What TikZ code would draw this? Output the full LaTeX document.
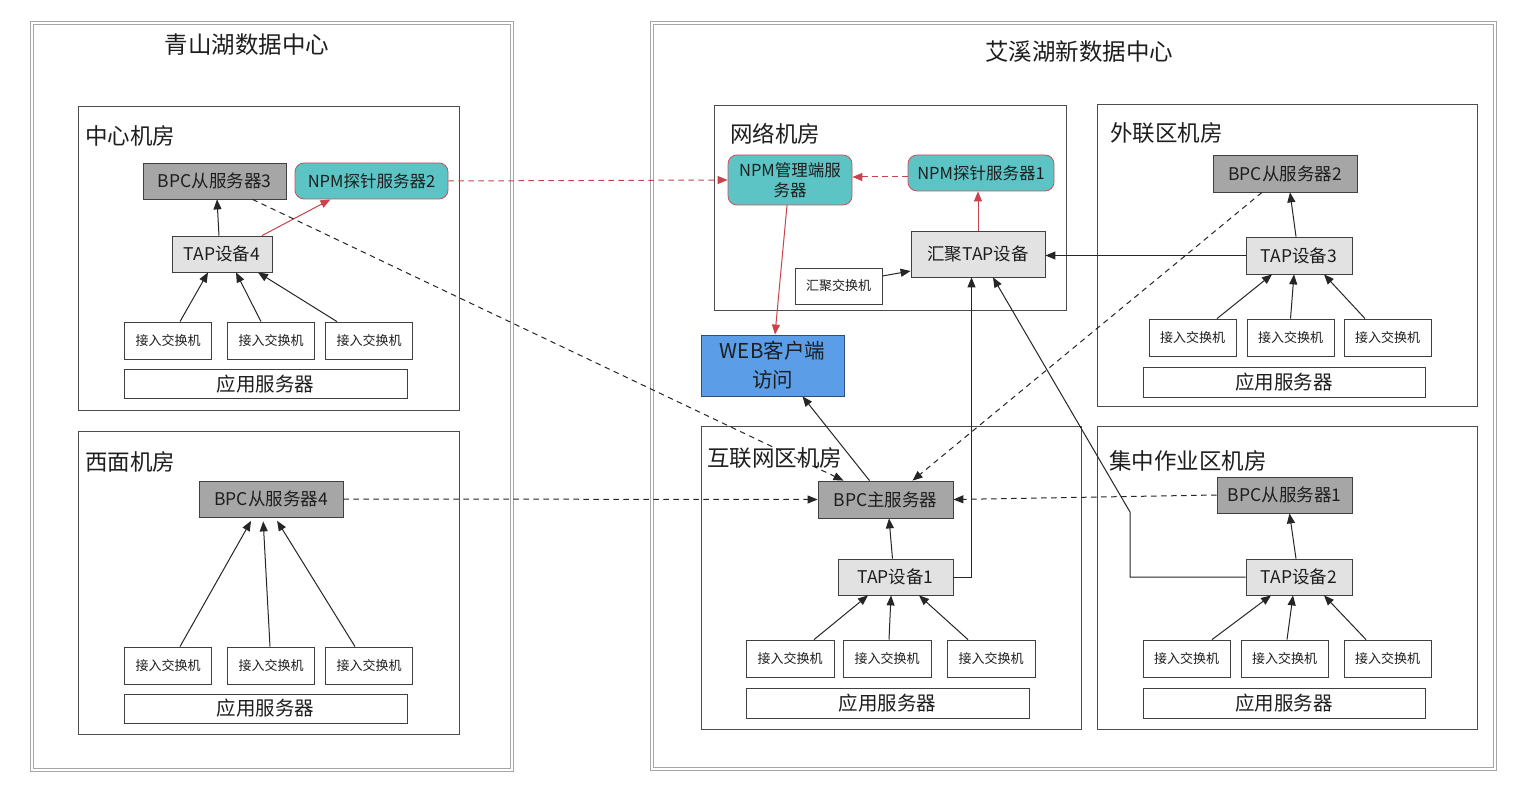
\documentclass[tikz,border=0pt]{standalone}
\usepackage{fontspec}
\setmainfont{Noto Sans CJK SC}
\usetikzlibrary{arrows.meta}
\definecolor{darkfill}{HTML}{A6A6A6}
\definecolor{lightfill}{HTML}{E2E2E2}
\definecolor{tealfill}{HTML}{5CC4C5}
\definecolor{npmborder}{HTML}{C9505A}
\definecolor{redline}{HTML}{C8434B}
\definecolor{webfill}{HTML}{5B9DE7}
\definecolor{webborder}{HTML}{2E4F7E}
\definecolor{txt}{HTML}{1E1E1E}
\tikzset{
  box/.style={draw=black!75, line width=0.8pt, inner sep=0pt, text=txt, align=center},
  darkbox/.style={box, fill=darkfill, font=\fontsize{17.5}{20}\selectfont},
  tapbox/.style={box, fill=lightfill, font=\fontsize{17.5}{20}\selectfont},
  swbox/.style={box, fill=white, minimum width=87pt, minimum height=37pt, font=\fontsize{13}{16}\selectfont},
  appbox/.style={box, fill=white, minimum width=283pt, minimum height=29pt, font=\fontsize{19.5}{22}\selectfont},
  npmbox/.style={box, draw=npmborder, fill=tealfill, rounded corners=9pt, text=txt, font=\fontsize{16.5}{20}\selectfont},
  room/.style={draw=black!70, line width=0.9pt},
  outer/.style={draw=gray!70, double=white, double distance=2pt, line width=1pt},
  roomlabel/.style={anchor=west, inner sep=0pt, text=txt, font=\fontsize{22.5}{26}\selectfont},
  title/.style={inner sep=0pt, text=txt, font=\fontsize{23.5}{27}\selectfont},
  arr/.style={draw=black!85, line width=1pt, -{Triangle[length=10pt,width=8pt]}},
  redarr/.style={draw=redline, line width=1pt, -{Triangle[length=10pt,width=8pt]}},
  dasharr/.style={arr, dash pattern=on 5.5pt off 4.5pt},
  reddash/.style={redarr, dash pattern=on 5.5pt off 4.5pt},
}
\begin{document}
\begin{tikzpicture}[x=1pt, y=-1pt]
\useasboundingbox[fill=white] (0,0) rectangle (1534,802);

% outer frames
\draw[outer] (32,23) rectangle (512,770);
\draw[outer] (652,23) rectangle (1495,769);
\node[title] (t1) at (247,45) {青山湖数据中心};
\node[title] (t2) at (1079,52) {艾溪湖新数据中心};

% rooms
\draw[room] (78,106) rectangle (459,410);
\node[roomlabel] (l1) at (85,136) {中心机房};
\draw[room] (78,431) rectangle (459,734);
\node[roomlabel] (l2) at (85,462) {西面机房};
\draw[room] (714,105) rectangle (1066,310);
\node[roomlabel] (l3) at (730,134) {网络机房};
\draw[room] (1097,104) rectangle (1477,406);
\node[roomlabel] (l4) at (1110,133) {外联区机房};
\draw[room] (701,426) rectangle (1081,729);
\node[roomlabel] (l5) at (707,458) {互联网区机房};
\draw[room] (1097,426) rectangle (1477,729);
\node[roomlabel] (l6) at (1109,461) {集中作业区机房};

% 中心机房
\node[darkbox, minimum width=143pt, minimum height=36pt] (bpc3) at (214.5,181) {BPC从服务器3};
\node[npmbox, minimum width=153pt, minimum height=36pt] (npm2) at (371.5,181) {NPM探针服务器2};
\node[tapbox, minimum width=100pt, minimum height=36pt] (tap4) at (222,254) {TAP设备4};
\node[swbox] (s41) at (168,340.5) {接入交换机};
\node[swbox] (s42) at (271,340.5) {接入交换机};
\node[swbox] (s43) at (369,340.5) {接入交换机};
\node[appbox] (app4) at (265.5,384) {应用服务器};

% 西面机房
\node[darkbox, minimum width=144pt, minimum height=36pt] (bpc4) at (271,499) {BPC从服务器4};
\node[swbox] (s51) at (168,665.5) {接入交换机};
\node[swbox] (s52) at (271,665.5) {接入交换机};
\node[swbox] (s53) at (369,665.5) {接入交换机};
\node[appbox] (app5) at (265.5,708.5) {应用服务器};

% 网络机房
\node[npmbox, minimum width=124pt, minimum height=50pt] (npmm) at (790,180) {NPM管理端服\\务器};
\node[npmbox, minimum width=146pt, minimum height=36pt] (npm1) at (981,173) {NPM探针服务器1};
\node[tapbox, minimum width=134pt, minimum height=46pt] (htap) at (978,254) {汇聚TAP设备};
\node[swbox, minimum height=36pt] (hsw) at (838.5,286) {汇聚交换机};
\node[box, draw=webborder, fill=webfill, minimum width=143pt, minimum height=61pt, text=txt, font=\fontsize{20.5}{29}\selectfont] (web) at (772.5,365.5) {WEB客户端\\访问};

% 外联区机房
\node[darkbox, minimum width=144pt, minimum height=37pt] (bpc2) at (1285,173.5) {BPC从服务器2};
\node[tapbox, minimum width=106pt, minimum height=37pt] (tap3) at (1299,255.5) {TAP设备3};
\node[swbox] (s31) at (1192.5,337.5) {接入交换机};
\node[swbox] (s32) at (1290.5,337.5) {接入交换机};
\node[swbox] (s33) at (1387.5,337.5) {接入交换机};
\node[appbox, minimum width=282pt, minimum height=30pt] (app3) at (1284,382) {应用服务器};

% 互联网区机房
\node[darkbox, minimum width=135pt, minimum height=37pt] (bpcm) at (885.5,499.5) {BPC主服务器};
\node[tapbox, minimum width=115pt, minimum height=36pt] (tap1) at (895.5,577) {TAP设备1};
\node[swbox, minimum width=88pt] (s11) at (790,658.5) {接入交换机};
\node[swbox, minimum width=88pt] (s12) at (887,658.5) {接入交换机};
\node[swbox, minimum width=88pt] (s13) at (991,658.5) {接入交换机};
\node[appbox, minimum height=30pt] (app1) at (887.5,703) {应用服务器};

% 集中作业区机房
\node[darkbox, minimum width=135pt, minimum height=36pt] (bpc1) at (1284.5,495) {BPC从服务器1};
\node[tapbox, minimum width=106pt, minimum height=36pt] (tap2) at (1299,577) {TAP设备2};
\node[swbox] (s21) at (1186.5,658.5) {接入交换机};
\node[swbox] (s22) at (1284.5,658.5) {接入交换机};
\node[swbox] (s23) at (1387.5,658.5) {接入交换机};
\node[appbox, minimum width=282pt, minimum height=30pt] (app2) at (1284,703) {应用服务器};

\coordinate (k2) at (1130,512);

% connectors: 中心机房
\draw[arr] ([xshift=-3pt]tap4.north) -- ([xshift=2.5pt]bpc3.south);
\draw[redarr] ([xshift=40pt]tap4.north) -- ([xshift=-41pt]npm2.south);
\draw[arr] ([xshift=12pt]s41.north) -- ([xshift=-14pt]tap4.south);
\draw[arr] ([xshift=-10pt]s42.north) -- ([xshift=14pt]tap4.south);
\draw[arr] ([xshift=-32pt]s43.north) -- ([xshift=36pt]tap4.south);

% 西面机房
\draw[arr, shorten >=4pt] ([xshift=12pt]s51.north) -- ([xshift=-18pt]bpc4.south);
\draw[arr, shorten >=4pt] ([xshift=-1pt]s52.north) -- ([xshift=-8pt]bpc4.south);
\draw[arr, shorten >=4pt] ([xshift=-14pt]s53.north) -- ([xshift=4pt]bpc4.south);

% 网络机房
\draw[arr] ([yshift=10pt]hsw.east) -- ([yshift=-17pt]htap.west);
\draw[redarr] (htap.north) -- (htap.north |- npm1.south);
\draw[reddash] ([yshift=-4pt]npm1.west) -- ([yshift=3pt]npmm.east);
\draw[reddash] (npm2.east) -- (npmm.west);
\draw[redarr] ([xshift=-3pt]npmm.south) -- ([xshift=2.5pt]web.north);

% 外联区机房
\draw[arr] ([xshift=-3pt]tap3.north) -- ([xshift=5pt]bpc2.south);
\draw[arr] ([xshift=24.5pt]s31.north) -- ([xshift=-27pt]tap3.south);
\draw[arr] (s32.north) -- ([xshift=-5pt]tap3.south);
\draw[arr] ([xshift=-22.5pt]s33.north) -- ([xshift=25pt]tap3.south);
\draw[arr] (tap3.west) -- (tap3.west -| htap.east);

% 互联网区机房
\draw[arr] ([xshift=-3pt]tap1.north) -- ([xshift=3.5pt]bpcm.south);
\draw[arr] ([xshift=24pt]s11.north) -- ([xshift=-27.5pt]tap1.south);
\draw[arr] ([xshift=2pt]s12.north) -- ([xshift=-4.5pt]tap1.south);
\draw[arr] ([xshift=-23pt]s13.north) -- ([xshift=23.5pt]tap1.south);
\draw[arr] (tap1.east) -| ([xshift=-6.5pt]htap.south);
\draw[arr] ([xshift=-16pt]bpcm.north) -- ([xshift=30pt]web.south);

% 集中作业区机房
\draw[arr] ([xshift=-3pt]tap2.north) -- ([xshift=5pt]bpc1.south);
\draw[arr] ([xshift=25.5pt]s21.north) -- ([xshift=-28pt]tap2.south);
\draw[arr] ([xshift=2.5pt]s22.north) -- ([xshift=-6pt]tap2.south);
\draw[arr] ([xshift=-21.5pt]s23.north) -- ([xshift=25pt]tap2.south);
\draw[arr] (tap2.west) -| (k2) -- ([xshift=15pt]htap.south);

% dashed to BPC main
\draw[dasharr] ([xshift=38pt]bpc3.south) -- ([xshift=-42pt]bpcm.north);
\draw[dasharr] (bpc4.east) -- (bpcm.west);
\draw[dasharr] (bpc1.west) -- (bpcm.east);
\draw[dasharr] ([xshift=-23pt]bpc2.south) -- ([xshift=27pt]bpcm.north);
\end{tikzpicture}
\end{document}
